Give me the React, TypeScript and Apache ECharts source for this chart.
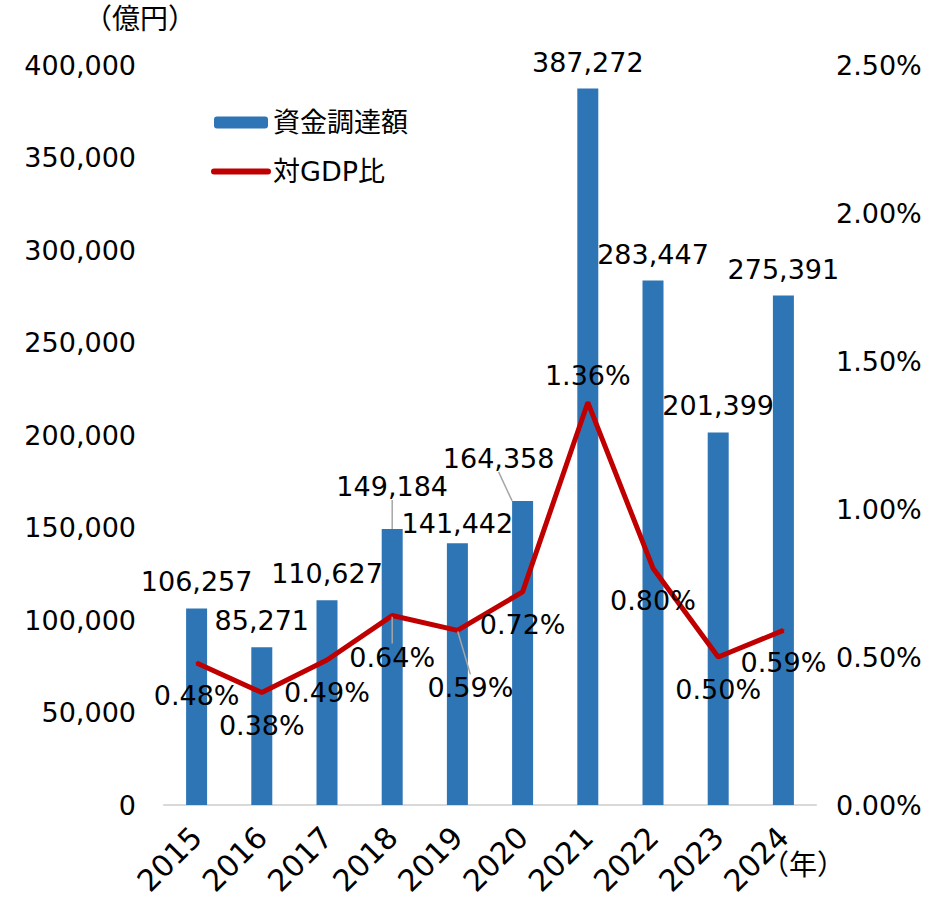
import React, { useEffect, useRef } from "react";
import * as echarts from "echarts";

const years = ["2015", "2016", "2017", "2018", "2019", "2020", "2021", "2022", "2023", "2024"];
const funding = [106257, 85271, 110627, 149184, 141442, 164358, 387272, 283447, 201399, 275391];
const gdpRatio = [0.48, 0.38, 0.49, 0.64, 0.59, 0.72, 1.36, 0.8, 0.5, 0.59];
const leftMax = 400000;
const leftInterval = 50000;
const rightMax = 2.5;
const rightInterval = 0.5;

const FONT = "'DejaVu Sans', 'Noto Sans CJK JP', sans-serif";
const BLUE = "#2E75B6";
const RED = "#C00000";
const GUIDE = "#A6A6A6";
const FS = 27;

// label tweaks (by index)
const barLeader = [3, 5];
const lineLeader = [3, 4];
const lineAbove = [6];

export default function App() {
  const ref = useRef<HTMLDivElement>(null);
  useEffect(() => {
    if (!ref.current) return;
    const chart = echarts.init(ref.current, null, { renderer: "svg" });
    const barData = funding.map((v, i) => {
      const item: any = { value: v };
      if (barLeader.includes(i)) item.labelLine = { show: true };
      if (i === 4) item.label = { distance: 6 };
      return item;
    });
    const lineData = gdpRatio.map((v, i) => {
      const item: any = { value: v };
      if (lineLeader.includes(i)) item.labelLine = { show: true };
      if (lineAbove.includes(i)) item.label = { position: "top", distance: 12 };
      return item;
    });
    chart.setOption({
      animation: false,
      textStyle: { fontFamily: FONT, color: "#000" },
      grid: { left: 164, right: 114, top: 65, bottom: 99 },
      legend: {
        orient: "vertical",
        left: 206,
        top: 104,
        itemWidth: 54,
        itemHeight: 12,
        itemGap: 22,
        textStyle: { fontSize: 27, color: "#000", fontFamily: FONT },
        data: [
          { name: "資金調達額" },
          {
            name: "対GDP比",
            itemStyle: { opacity: 0 },
            lineStyle: { width: 6, cap: "round", color: RED },
          },
        ],
      },
      xAxis: {
        type: "category",
        data: years,
        axisLine: { lineStyle: { color: "#D9D9D9", width: 2 } },
        axisTick: { show: false },
        axisLabel: { rotate: 45, fontSize: 30, color: "#000", margin: 27, fontFamily: FONT },
      },
      yAxis: [
        {
          type: "value",
          min: 0,
          max: leftMax,
          interval: leftInterval,
          splitLine: { show: false },
          axisLine: { show: false },
          axisTick: { show: false },
          axisLabel: {
            fontSize: FS,
            color: "#000",
            margin: 28,
            fontFamily: FONT,
            formatter: (v: number) => v.toLocaleString("en-US"),
          },
        },
        {
          type: "value",
          min: 0,
          max: rightMax,
          interval: rightInterval,
          splitLine: { show: false },
          axisLine: { show: false },
          axisTick: { show: false },
          axisLabel: {
            fontSize: FS,
            color: "#000",
            margin: 20,
            fontFamily: FONT,
            formatter: (v: number) => v.toFixed(2) + "%",
          },
        },
      ],
      series: [
        {
          name: "資金調達額",
          type: "bar",
          data: barData,
          barWidth: 21,
          itemStyle: { color: BLUE },
          label: {
            show: true,
            position: "top",
            distance: 13,
            fontSize: FS,
            color: "#000",
            fontFamily: FONT,
            formatter: (p: any) => Number(p.value).toLocaleString("en-US"),
          },
          labelLine: { show: false, lineStyle: { color: GUIDE, width: 1.5 } },
          labelLayout: (p: any) => {
            if (p.dataIndex === 3) return { dy: -16 };
            if (p.dataIndex === 5) return { dx: -24, dy: -16 };
            return {};
          },
          z: 2,
        },
        {
          name: "対GDP比",
          type: "line",
          yAxisIndex: 1,
          data: lineData,
          symbol: "circle",
          symbolSize: 2,
          showSymbol: true,
          itemStyle: { color: RED },
          lineStyle: { color: RED, width: 5 },
          label: {
            show: true,
            position: "bottom",
            distance: 18,
            fontSize: FS,
            color: "#000",
            fontFamily: FONT,
            formatter: (p: any) => Number(p.value).toFixed(2) + "%",
          },
          labelLine: { show: false, lineStyle: { color: GUIDE, width: 1.5 } },
          labelLayout: (p: any) => {
            if (p.dataIndex === 3) return { dy: 9 };
            if (p.dataIndex === 4) return { dx: 13, dy: 25 };
            return {};
          },
          z: 3,
        },
      ],
      graphic: [
        {
          type: "text",
          left: 84,
          top: 5,
          style: { text: "（億円）", fontSize: 28, fill: "#000", fontFamily: FONT },
        },
        {
          type: "text",
          left: 761,
          top: 851,
          style: { text: "（年）", fontSize: 28, fill: "#000", fontFamily: FONT },
        },
      ],
    });
    return () => chart.dispose();
  }, []);
  return (
    <div
      ref={ref}
      style={{ position: "fixed", left: 0, top: 0, width: 930, height: 904, background: "#fff" }}
    />
  );
}
